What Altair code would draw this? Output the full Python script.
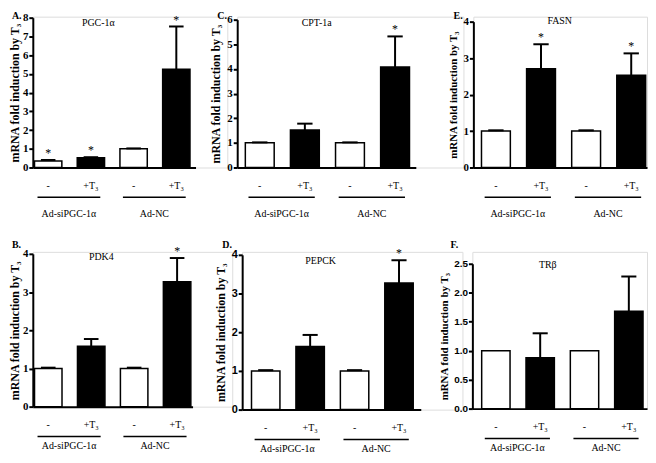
import altair as alt
import pandas as pd

# ---- shared categories ----
bar_pos = [1, 2, 3, 4]
conditions = ["-", "+T\u2083", "-", "+T\u2083"]
groups = ["Ad-siPGC-1\u03b1", "Ad-siPGC-1\u03b1", "Ad-NC", "Ad-NC"]
treatment = ["control", "T3", "control", "T3"]

# ---- panel values (mean, upper error, significance) ----
pgc1a_mean = [0.35, 0.52, 1.00, 5.25]
pgc1a_err = [0.05, 0.03, 0.02, 2.28]
pgc1a_star = ["*", "*", "", "*"]

cpt1a_mean = [1.00, 1.52, 1.00, 4.08]
cpt1a_err = [0.02, 0.26, 0.02, 1.24]
cpt1a_star = ["", "", "", "*"]

fasn_mean = [1.00, 2.71, 1.00, 2.53]
fasn_err = [0.02, 0.67, 0.02, 0.60]
fasn_star = ["", "*", "", "*"]

pdk4_mean = [1.00, 1.58, 1.00, 3.27]
pdk4_err = [0.02, 0.19, 0.02, 0.62]
pdk4_star = ["", "", "", "*"]

pepck_mean = [1.00, 1.63, 1.00, 3.27]
pepck_err = [0.02, 0.30, 0.02, 0.59]
pepck_star = ["", "", "", "*"]

trb_mean = [1.00, 0.88, 1.00, 1.68]
trb_err = [0.00, 0.42, 0.00, 0.60]
trb_star = ["", "", "", ""]

SERIF = "Liberation Serif"
SANS = "Liberation Sans"
YTITLE = "mRNA fold induction by T\u2083"


def make_panel(letter, gene, mean, err, star, ymax, ystep, fmt, lay):
    df = pd.DataFrame({"pos": bar_pos, "cond": conditions, "grp": groups,
                       "treat": treatment, "mean": mean, "err": err, "star": star})
    df["upper"] = df["mean"] + df["err"]
    df["x0"] = df["pos"] - 0.32
    df["x1"] = df["pos"] + 0.32
    df["c0"] = df["pos"] - 0.17
    df["c1"] = df["pos"] + 0.17

    g = df.groupby("grp", sort=False).agg(p0=("pos", "min"), p1=("pos", "max")).reset_index()
    g["g0"] = g["p0"] - 0.25
    g["g1"] = g["p1"] + 0.22
    g["gc"] = (g["g0"] + g["g1"]) / 2

    y0, y1 = lay["y0"], lay["y1"]
    xs = alt.Scale(domain=lay["xdom"], range=[0, lay["xr"]], nice=False, zero=False)
    ys = alt.Scale(domain=[0, ymax], range=[y0, y1], nice=False, zero=True)
    x_axis = alt.Axis(labels=False, ticks=False, title=None, grid=False,
                      domainWidth=2, domainColor="black")
    nt = int(round(ymax / ystep))
    tick_vals = [round(i * ystep, 3) for i in range(nt + 1)]
    yax = dict(values=tick_vals, format=fmt, grid=False, title=YTITLE,
               domainWidth=2, domainColor="black", tickColor="black", tickWidth=2,
               tickSize=4, labelFont=lay["lfont"], labelFontWeight="bold",
               labelFontSize=lay["lsize"], labelColor="black", labelPadding=1,
               titleFont=SERIF, titleFontWeight="bold", titleFontSize=lay.get("tfs", 12),
               titleColor="black")
    if "titleX" in lay:
        yax["titleX"] = lay["titleX"]
    else:
        yax["titlePadding"] = lay.get("tpad", 4)
    y_axis = alt.Axis(**yax)

    def X(f):
        return alt.X(f, type="quantitative", scale=xs, axis=x_axis)

    def Y(f):
        return alt.Y(f, type="quantitative", scale=ys, axis=y_axis)

    base = alt.Chart(df)
    bars = base.mark_rect(stroke="black", strokeWidth=1.5).encode(
        x=X("x0"), x2="x1:Q", y=Y("mean"), y2=alt.datum(0),
        fill=alt.Fill("treat:N", scale=alt.Scale(domain=["control", "T3"],
                                                 range=["white", "black"]), legend=None))
    ebar = base.transform_filter("datum.err > 0").mark_rule(
        color="black", strokeWidth=2).encode(x=X("pos"), y=Y("mean"), y2="upper:Q")
    caps = base.transform_filter("datum.err > 0").mark_rule(
        color="black", strokeWidth=2).encode(x=X("c0"), x2="c1:Q", y=Y("upper"))
    stars = base.mark_text(font=SERIF, fontSize=12, dy=-7, color="black", fill="black").encode(
        x=X("pos"), y=Y("upper"), text="star:N")
    conds = base.mark_text(font=SERIF, fontSize=10, fill="black").encode(
        x=X("pos"), y=alt.value(y0 + lay["dc"]), text="cond:N")
    gb = alt.Chart(g)
    ulines = gb.mark_rule(color="black", strokeWidth=1.5).encode(
        x=X("g0"), x2="g1:Q", y=alt.value(y0 + lay["du"]))
    glabs = gb.mark_text(font=SERIF, fontSize=10, fill="black").encode(
        x=X("gc"), y=alt.value(y0 + lay["dg"]), text="grp:N")
    tdf = alt.Chart(pd.DataFrame({"t": [gene], "l": [letter]}))
    gtitle = tdf.mark_text(font=SERIF, fontSize=10, fill="black").encode(
        x=alt.value(lay["tx"]), y=alt.value(lay["ty"]), text="t:N")
    let = tdf.mark_text(font=SERIF, fontSize=10, fontWeight="bold", fill="black",
                        align="left", baseline="top").encode(
        x=alt.value(lay["lx"]), y=alt.value(lay["ly"]), text="l:N")
    return alt.layer(bars, ebar, caps, stars, conds, ulines, glabs, gtitle, let).properties(
        width=lay["w"], height=y0)


top = dict(y0=152, dc=19, du=30, dg=47)
bot = dict(dc=19, du=30, dg=40)

lay_A = dict(top, y1=1, xdom=[0.64, 4.45], xr=164, w=196, lfont=SERIF, lsize=11,
             titleX=-11, tx=66, ty=6, lx=-21, ly=-6)
lay_C = dict(top, y1=3, xdom=[0.5, 4.46], xr=180, w=228, lfont=SERIF, lsize=11,
             tx=80, ty=6, lx=-20, ly=-6)
lay_E = dict(top, y1=5, xdom=[0.5, 4.35], xr=175, w=175, lfont=SERIF, lsize=11, tfs=11,
             tx=87, ty=4, lx=-20, ly=-6)
lay_B = dict(bot, y0=156, y1=2, xdom=[0.64, 4.36], xr=161, w=201, lfont=SERIF, lsize=11,
             titleX=-11, tx=69, ty=5, lx=-21, ly=-12)
lay_D = dict(bot, y0=159, y1=3, xdom=[0.47, 4.49], xr=180, w=222, lfont=SANS, lsize=11,
             tx=79, ty=9, lx=-20, ly=-12)
lay_F = dict(bot, y0=158, y1=12, xdom=[0.47, 4.41], xr=176, w=176, lfont=SANS, lsize=10,
             tfs=11, tx=76, ty=13, lx=-22, ly=-12)

pA = make_panel("A.", "PGC-1\u03b1", pgc1a_mean, pgc1a_err, pgc1a_star, 8, 1, "d", lay_A)
pC = make_panel("C.", "CPT-1a", cpt1a_mean, cpt1a_err, cpt1a_star, 6, 1, "d", lay_C)
pE = make_panel("E.", "FASN", fasn_mean, fasn_err, fasn_star, 4, 1, "d", lay_E)
pB = make_panel("B.", "PDK4", pdk4_mean, pdk4_err, pdk4_star, 4, 1, "d", lay_B)
pD = make_panel("D.", "PEPCK", pepck_mean, pepck_err, pepck_star, 4, 1, "d", lay_D)
pF = make_panel("F.", "TR\u03b2", trb_mean, trb_err, trb_star, 2.5, 0.5, ".1f", lay_F)

row1 = alt.hconcat(pA, pC, pE, spacing=10, bounds="flush")
row2 = alt.hconcat(pB, pD, pF, spacing=10, bounds="flush")
chart = alt.vconcat(row1, row2, spacing=19, bounds="full").properties(
    padding=0).configure_view(stroke=None).configure(background="white")

chart.save("out.html", embed_options={"renderer": "svg", "actions": False})
